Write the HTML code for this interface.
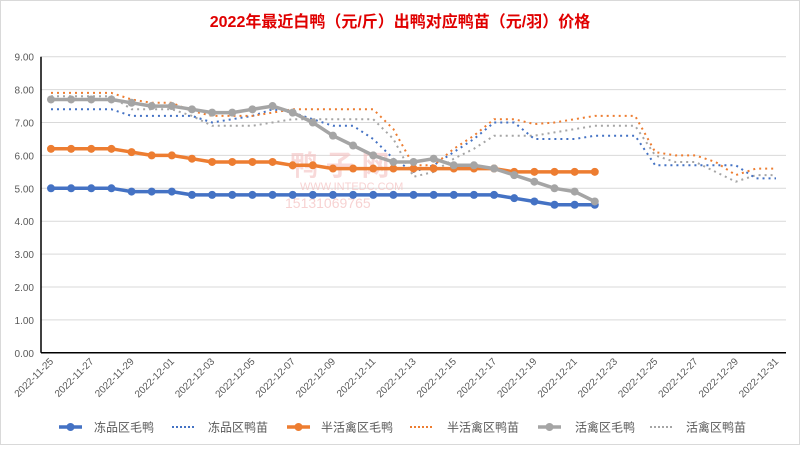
<!DOCTYPE html>
<html><head><meta charset="utf-8">
<style>
html,body{margin:0;padding:0;background:#fff;}
body{width:800px;height:446px;overflow:hidden;font-family:"Liberation Sans","Noto Sans CJK SC",sans-serif;}
</style></head>
<body>
<svg id="c" width="800" height="446" xmlns="http://www.w3.org/2000/svg" font-family="Liberation Sans, Noto Sans CJK SC, sans-serif">
<rect x="0.5" y="0.5" width="799" height="444" fill="#fff" stroke="#d9d9d9"/>
<text x="400" y="27" text-anchor="middle" font-size="16" font-weight="bold" fill="#e00000">2022年最近白鸭（元/斤）出鸭对应鸭苗（元/羽）价格</text>
</svg>
<script>
const s=document.getElementById('c');const NS='http://www.w3.org/2000/svg';
function el(t,a,txt){const e=document.createElementNS(NS,t);for(const k in a)e.setAttribute(k,a[k]);if(txt!==undefined)e.textContent=txt;s.appendChild(e);return e;}
const X=d=>51+20.14*d, Y=v=>352.8-32.9*v;
for(let i=0;i<=9;i++){const y=Y(i);
 if(i>0)el('line',{x1:41,x2:786,y1:y,y2:y,stroke:'#d9d9d9','stroke-width':1});
 el('text',{x:34,y:y+4,'text-anchor':'end','font-size':10,fill:'#595959'},i.toFixed(2));}
el('line',{x1:41,x2:41,y1:Y(9),y2:Y(0),stroke:'#000','stroke-width':1.5});
el('line',{x1:41,x2:786,y1:Y(0),y2:Y(0),stroke:'#000','stroke-width':1.5});
const dates=[];for(let d=0;d<37;d++){const dt=new Date(2022,10,25+d);dates.push('2022-'+String(dt.getMonth()+1).padStart(2,'0')+'-'+String(dt.getDate()).padStart(2,'0'));}
for(let d=0;d<37;d+=2){const x=X(d)+3,y=362;el('text',{x:x,y:y,'text-anchor':'end','font-size':10,fill:'#595959',transform:`rotate(-45 ${x} ${y})`},dates[d]);}
el('text',{x:290,y:175,'font-size':28,fill:'#f4c0c0','font-weight':'bold',opacity:0.6},'鸭 子 网');
el('text',{x:300,y:190,'font-size':11,fill:'#f4c0c0',opacity:0.7},'WWW.INTEDC.COM');
el('text',{x:285,y:208,'font-size':14,fill:'#f4c0c0',opacity:0.7},'15131069765');
const BL='#4472c4',OR='#ed7d31',GR='#a5a5a5';
const bd=[7.4,7.4,7.4,7.4,7.2,7.2,7.2,7.2,7.0,7.1,7.2,7.4,7.3,7.1,6.9,6.9,6.5,5.9,5.5,5.7,6.1,6.5,7.0,7.0,6.5,6.5,6.5,6.6,6.6,6.6,5.7,5.7,5.7,5.7,5.7,5.3,5.3];
const od=[7.9,7.9,7.9,7.9,7.7,7.6,7.6,7.35,7.2,7.2,7.2,7.3,7.4,7.4,7.4,7.4,7.4,6.8,5.7,5.7,6.2,6.6,7.1,7.1,6.95,7.0,7.1,7.2,7.2,7.2,6.1,6.0,6.0,5.8,5.4,5.6,5.6];
const gd=[7.8,7.8,7.8,7.8,7.4,7.4,7.4,7.2,6.9,6.9,6.9,7.0,7.1,7.1,7.1,7.1,7.1,6.5,5.35,5.5,5.9,6.2,6.6,6.6,6.6,6.7,6.8,6.9,6.9,6.9,6.0,5.8,5.8,5.5,5.2,5.4,5.4];
const bs=[5,5,5,5,4.9,4.9,4.9,4.8,4.8,4.8,4.8,4.8,4.8,4.8,4.8,4.8,4.8,4.8,4.8,4.8,4.8,4.8,4.8,4.7,4.6,4.5,4.5,4.5];
const os=[6.2,6.2,6.2,6.2,6.1,6.0,6.0,5.9,5.8,5.8,5.8,5.8,5.7,5.7,5.6,5.6,5.6,5.6,5.6,5.6,5.6,5.6,5.6,5.5,5.5,5.5,5.5,5.5];
const gs=[7.7,7.7,7.7,7.7,7.6,7.5,7.5,7.4,7.3,7.3,7.4,7.5,7.3,7.0,6.6,6.3,6.0,5.8,5.8,5.9,5.7,5.7,5.6,5.4,5.2,5.0,4.9,4.6];
function pts(a){return a.map((v,i)=>X(i).toFixed(1)+','+Y(v).toFixed(1)).join(' ');}
function dot(a,c){el('polyline',{points:pts(a),fill:'none',stroke:c,'stroke-width':2,'stroke-dasharray':'2 4','stroke-linecap':'butt'});}
function sol(a,c){el('polyline',{points:pts(a),fill:'none',stroke:c,'stroke-width':3.5,'stroke-linejoin':'round'});a.forEach((v,i)=>el('circle',{cx:X(i),cy:Y(v),r:4,fill:c}));}
dot(gd,GR);dot(bd,BL);dot(od,OR);
sol(bs,BL);sol(os,OR);sol(gs,GR);
const L=[[59,96,BL,1,'冻品区毛鸭'],[172,210,BL,0,'冻品区鸭苗'],[287,323,OR,1,'半活禽区毛鸭'],[410,449,OR,0,'半活禽区鸭苗'],[538,577,GR,1,'活禽区毛鸭'],[650,688,GR,0,'活禽区鸭苗']];
L.forEach(([a,t,c,solid,n])=>{const y=427;
 if(solid){el('line',{x1:a,x2:a+23,y1:y,y2:y,stroke:c,'stroke-width':3.5});el('circle',{cx:a+11.5,cy:y,r:4,fill:c});}
 else el('line',{x1:a,x2:a+23,y1:y,y2:y,stroke:c,'stroke-width':2,'stroke-dasharray':'2 2'});
 el('text',{x:t-2,y:y+4.5,'font-size':12,fill:'#595959'},n);});
</script>
</body></html>
